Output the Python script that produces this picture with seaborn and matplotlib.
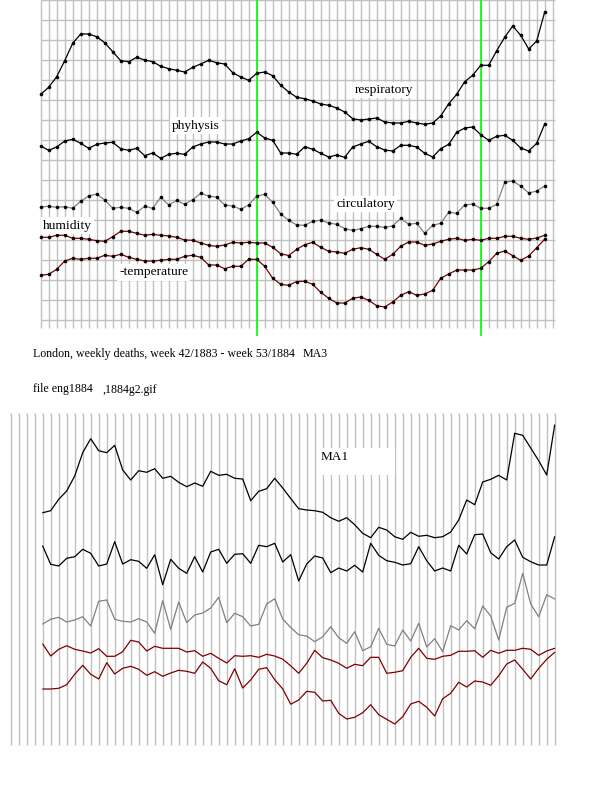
import matplotlib
matplotlib.use("Agg")
import matplotlib.pyplot as plt
from matplotlib.patches import Rectangle
import seaborn as sns
import numpy as np
import pandas as pd

# ---- data: weekly levels (screen rows, smaller = higher) ----
# MA3, week 42/1883 .. week 53/1884 (64 weeks)
resp_ma3 = [94.3, 87.3, 76.7, 60.7, 43.3, 34.0, 34.0, 36.7, 42.7, 51.7,
            60.7, 61.7, 57.3, 60.0, 61.7, 66.3, 68.7, 70.3, 72.0, 67.3,
            64.0, 60.3, 62.7, 64.0, 72.7, 77.0, 80.3, 73.3, 72.0, 75.7,
            85.3, 92.0, 97.3, 98.7, 101.0, 104.0, 105.3, 108.0, 112.0, 118.7,
            120.0, 119.0, 118.0, 122.0, 123.0, 123.0, 121.3, 123.0, 124.3, 123.0,
            116.0, 103.7, 94.3, 81.7, 75.3, 65.3, 65.3, 50.7, 37.3, 26.0,
            35.3, 49.0, 41.0, 12.0]
phys_ma3 = [146.0, 150.3, 147.0, 141.0, 139.3, 143.3, 148.3, 144.3, 143.0, 142.3,
            148.7, 150.3, 148.3, 155.7, 153.0, 158.3, 154.3, 153.3, 154.3, 147.0,
            144.0, 142.0, 142.0, 144.0, 144.0, 141.0, 138.7, 132.3, 138.0, 140.3,
            153.0, 153.0, 154.3, 146.7, 149.3, 153.3, 157.0, 155.0, 157.3, 147.0,
            144.0, 141.3, 146.7, 150.0, 151.0, 145.3, 145.3, 147.0, 153.3, 157.0,
            148.7, 144.3, 132.3, 128.0, 127.0, 134.7, 140.3, 136.3, 135.3, 140.3,
            148.0, 151.0, 143.3, 124.0]
circ_ma3 = [207.0, 206.3, 207.3, 206.7, 208.3, 201.3, 196.0, 194.0, 200.0, 208.3,
            207.3, 208.3, 212.3, 206.3, 208.3, 197.3, 205.0, 200.3, 204.3, 199.7,
            193.3, 196.0, 197.3, 205.0, 206.0, 209.3, 205.0, 196.0, 194.3, 202.3,
            214.0, 220.3, 225.0, 225.3, 221.3, 220.3, 223.0, 224.3, 228.7, 230.3,
            228.7, 226.3, 226.3, 227.3, 226.0, 218.3, 224.3, 223.3, 233.3, 225.3,
            223.3, 212.3, 213.3, 205.0, 204.0, 208.3, 208.3, 204.3, 182.3, 181.0,
            186.0, 193.0, 191.0, 186.0]
hum_ma3 = [237.3, 237.3, 235.3, 235.3, 238.3, 238.3, 239.3, 240.7, 241.3, 236.7,
           231.3, 231.3, 233.3, 235.3, 234.3, 235.3, 236.0, 237.3, 240.0, 240.3,
           243.0, 245.3, 246.3, 245.0, 242.3, 243.0, 242.3, 243.0, 243.0, 247.3,
           253.8, 255.5, 249.3, 244.7, 242.3, 247.3, 251.3, 252.0, 253.3, 249.3,
           247.7, 249.3, 254.3, 259.3, 254.3, 246.3, 242.0, 242.0, 245.3, 244.0,
           241.3, 239.3, 238.3, 240.3, 239.3, 240.3, 238.3, 238.3, 236.3, 236.3,
           238.3, 239.3, 238.0, 235.3]
temp_ma3 = [275.3, 274.3, 269.3, 261.0, 258.3, 259.3, 258.3, 258.3, 255.3, 256.3,
            254.3, 257.3, 259.3, 261.0, 261.0, 260.3, 259.3, 259.3, 256.3, 255.3,
            257.3, 265.0, 265.0, 268.7, 266.3, 266.3, 259.3, 259.3, 266.3, 278.3,
            284.3, 285.3, 281.5, 281.3, 284.3, 292.3, 298.3, 303.0, 303.0, 298.3,
            297.0, 300.3, 305.7, 307.0, 302.0, 295.3, 291.7, 295.3, 294.0, 290.3,
            278.3, 274.0, 270.0, 270.0, 270.0, 268.3, 261.7, 253.3, 251.0, 255.7,
            260.3, 256.0, 247.7, 239.3]

# MA1 (raw weekly), 65 weeks
resp_ma1 = [512.7, 510.7, 499.3, 491.0, 476.0, 452.7, 438.7, 450.7, 452.7, 445.3,
            470.0, 480.0, 470.7, 472.3, 468.7, 478.3, 476.3, 482.3, 486.7, 483.0,
            486.3, 471.3, 475.3, 474.3, 478.3, 479.0, 500.7, 491.3, 488.7, 478.3,
            488.0, 498.5, 508.7, 510.0, 510.7, 512.3, 517.7, 521.3, 517.7, 524.7,
            533.3, 537.7, 527.3, 530.0, 536.7, 539.3, 532.3, 536.3, 535.3, 537.7,
            536.7, 532.0, 520.0, 500.0, 504.7, 482.0, 479.3, 475.3, 480.0, 433.3,
            435.3, 448.0, 460.7, 475.0, 425.0]
phys_ma1 = [546.0, 564.3, 566.0, 558.3, 556.7, 549.3, 553.3, 566.0, 564.0, 541.7,
            564.0, 559.7, 561.3, 568.3, 554.7, 584.7, 559.3, 568.3, 573.3, 556.7,
            572.0, 552.0, 549.3, 563.3, 554.3, 553.7, 563.3, 545.3, 546.7, 543.3,
            562.0, 554.7, 581.0, 564.0, 556.0, 558.0, 572.7, 568.0, 571.0, 565.3,
            572.0, 543.3, 555.3, 560.7, 562.3, 565.0, 563.7, 546.7, 560.7, 571.0,
            568.0, 571.0, 545.3, 554.0, 534.7, 534.0, 552.7, 559.0, 546.7, 540.0,
            557.3, 561.7, 565.0, 565.0, 536.7]
circ_ma1 = [624.0, 619.3, 617.3, 622.0, 620.0, 616.7, 626.0, 601.3, 600.0, 619.3,
            621.3, 622.0, 618.7, 622.0, 633.3, 600.7, 629.3, 602.0, 622.7, 615.0,
            613.0, 608.0, 597.3, 622.7, 613.3, 616.7, 626.0, 624.3, 604.0, 598.7,
            619.0, 627.5, 634.8, 636.0, 641.7, 636.7, 626.7, 637.7, 643.3, 631.7,
            650.7, 646.7, 628.3, 644.3, 646.0, 630.0, 641.0, 623.3, 647.0, 638.7,
            651.7, 625.7, 630.0, 620.7, 628.7, 606.0, 616.0, 640.0, 607.3, 603.3,
            573.3, 604.0, 616.7, 594.7, 599.0]
hum_ma1 = [644.0, 656.0, 649.3, 645.7, 649.3, 651.0, 653.0, 648.7, 656.3, 656.3,
           651.7, 640.3, 642.0, 651.0, 646.3, 648.3, 648.3, 648.3, 652.0, 650.7,
           656.3, 653.3, 658.3, 663.0, 655.7, 656.3, 655.7, 657.3, 654.3, 656.0,
           659.2, 665.8, 673.3, 663.3, 650.3, 657.7, 660.0, 663.3, 668.3, 664.3,
           665.7, 657.3, 657.3, 673.3, 672.3, 670.7, 657.3, 648.3, 658.3, 659.3,
           656.3, 655.3, 651.3, 651.3, 650.7, 657.3, 650.3, 653.3, 650.3, 650.3,
           648.3, 649.3, 655.3, 651.0, 648.3]
temp_ma1 = [689.0, 689.0, 688.3, 684.7, 674.3, 665.3, 674.3, 679.0, 662.7, 674.0,
            668.3, 666.3, 669.3, 675.3, 671.7, 676.3, 673.0, 670.3, 671.3, 673.3,
            662.0, 668.3, 680.7, 684.7, 668.7, 688.0, 680.0, 669.3, 667.7, 679.7,
            688.8, 704.2, 700.0, 691.3, 692.3, 701.0, 700.3, 713.3, 719.0, 717.3,
            712.7, 704.7, 714.7, 719.3, 724.0, 716.7, 704.0, 701.3, 707.3, 716.0,
            698.7, 693.3, 682.3, 687.0, 681.0, 682.0, 685.3, 675.7, 664.0, 660.0,
            669.3, 679.0, 668.3, 659.3, 652.3]

marked_weeks = [27, 55]   # green markers (1884 wk 17, wk 45)

series_names = ["respiratory", "phyhysis", "circulatory", "humidity", "temperature"]
COLORS = {"respiratory": "black", "phyhysis": "black", "circulatory": "#808080",
          "humidity": "#800000", "temperature": "#800000"}

W, H = 600, 800
GRID = "#c0c0c0"

sns.set_style("white")
plt.rcParams["font.family"] = ["Liberation Serif", "DejaVu Serif"]


def long_frame(arrays):
    rows = []
    for name, vals in zip(series_names, arrays):
        for i, v in enumerate(vals):
            rows.append({"week": i, "level": v, "series": name})
    return pd.DataFrame(rows)


def fig_box(x0, y0, x1, y1):
    return [x0 / W, 1 - y1 / H, (x1 - x0) / W, (y1 - y0) / H]


fig = plt.figure(figsize=(W / 100, H / 100), dpi=100)
fig.patch.set_facecolor("white")

# ---------- top panel (MA3) ----------
x0_top, step = 40.7, 8.0
top = fig.add_axes(fig_box(0, 0, W, 345))
top.set_xlim(-x0_top / step, (W - x0_top) / step)
top.set_ylim(345, 0)
top.vlines(np.arange(65), 0, 328, color=GRID, lw=1, zorder=0)
top.hlines(np.arange(0, 321, 20), 0, 64.3, color=GRID, lw=1, zorder=0)
top.vlines(marked_weeks, 0, 336, color="#00ff00", lw=1.2, zorder=1)

df3 = long_frame([resp_ma3, phys_ma3, circ_ma3, hum_ma3, temp_ma3])
for name in series_names:
    sub = df3[df3["series"] == name]
    sns.lineplot(data=sub, x="week", y="level", ax=top, color=COLORS[name],
                 lw=0.9, marker="o", markersize=2.2, markeredgecolor="black",
                 markerfacecolor="black", markeredgewidth=0.4, zorder=3)
top.axis("off")

# ---------- bottom panel (MA1) ----------
x0_bot = 42.7
bot = fig.add_axes(fig_box(0, 400, W, H))
bot.set_xlim(-x0_bot / step, (W - x0_bot) / step)
bot.set_ylim(H, 400)
bot.vlines(np.arange(-4, 65), 413, 745, color=GRID, lw=1, zorder=0)
bot.add_patch(Rectangle(((320 - x0_bot) / step, 448), 75 / step, 27,
                        facecolor="white", edgecolor="none", zorder=1))

df1 = long_frame([resp_ma1, phys_ma1, circ_ma1, hum_ma1, temp_ma1])
for name in series_names:
    sub = df1[df1["series"] == name]
    sns.lineplot(data=sub, x="week", y="level", ax=bot, color=COLORS[name],
                 lw=0.9, zorder=3)
bot.axis("off")

# ---------- text ----------
def label(x, y, s, size=9.7, box=True):
    kw = dict(fontsize=size, va="center", ha="left", color="black")
    if box:
        kw["bbox"] = dict(facecolor="white", edgecolor="none", pad=1.5)
    fig.text(x / W, 1 - y / H, s, **kw)

label(355, 90, "respiratory")
label(172, 125.5, "phyhysis")
label(336.5, 204, "circulatory")
label(43, 225.5, "humidity")
label(119, 272.5, "-temperature")
label(33, 354, "London, weekly deaths, week 42/1883 - week 53/1884", size=8.6, box=False)
label(303, 354, "MA3", size=8.6, box=False)
label(33, 389, "file eng1884", size=8.6, box=False)
label(102, 390, ",1884g2.gif", size=8.6, box=False)
label(321, 457, "MA1", size=9.5, box=False)

fig.savefig("out.png", dpi=100, facecolor="white")
plt.close(fig)
